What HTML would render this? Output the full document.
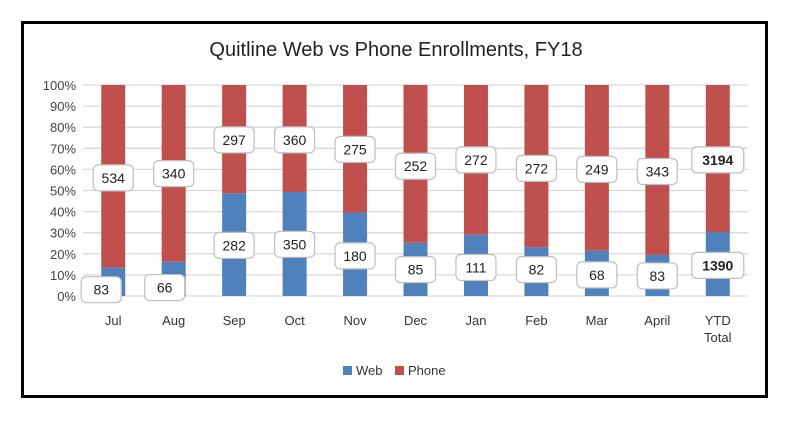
<!DOCTYPE html>
<html><head><meta charset="utf-8"><style>
body{margin:0;background:#fff;width:800px;height:418px;overflow:hidden;font-family:"Liberation Sans",sans-serif}
svg text{font-family:"Liberation Sans",sans-serif}
</style></head><body>
<svg id="c" width="800" height="418">
<rect x="22.5" y="22.5" width="744" height="374" fill="#fff" stroke="#000" stroke-width="3"/>
<text x="396" y="56" text-anchor="middle" font-size="20" fill="#222">Quitline Web vs Phone Enrollments, FY18</text>
<g id="grid"></g><g id="bars"></g><g id="labels"></g>
<g>
<rect x="343" y="366" width="9" height="9" fill="#4f81bd"/>
<text x="356" y="375" font-size="13" fill="#333">Web</text>
<rect x="395" y="366" width="9" height="9" fill="#c0504d"/>
<text x="408" y="375" font-size="13" fill="#333">Phone</text>
</g>
</svg>
<script>
const categories=["Jul","Aug","Sep","Oct","Nov","Dec","Jan","Feb","Mar","April","YTD Total"];
const webValues=[83,66,282,350,180,85,111,82,68,83,1390];
const phoneValues=[534,340,297,360,275,252,272,272,249,343,3194];
const yTicks=[0,10,20,30,40,50,60,70,80,90,100];
// label placement (layout only, percent of axis)
const webLabelPos=[3,4,24,24.5,19,12.5,13.5,12.5,10,9.5,14.5];
const phoneLabelPos=[56,58,74,74,69.5,61.5,64.5,60.5,60,59,64.5];
const webLabelDx=[-12,-9,0,0,0,0,0,0,0,0,0];
const NS="http://www.w3.org/2000/svg";
const L=83,R=748,T=85,B=296;
const band=(R-L)/categories.length;
const x=i=>L+band*(i+0.5);
const y=p=>B-(B-T)*p/100;
function mk(tag,attrs,parent){const e=document.createElementNS(NS,tag);for(const k in attrs)e.setAttribute(k,attrs[k]);parent.appendChild(e);return e;}
const grid=document.getElementById('grid'),bars=document.getElementById('bars'),labels=document.getElementById('labels');
yTicks.forEach(t=>{
 const l=mk('line',{x1:L,x2:R,y1:y(t),y2:y(t),stroke:'#d9d9d9','stroke-width':1.3},grid);
 
 
 const tx=mk('text',{x:76,y:y(t)+5,'text-anchor':'end','font-size':13,fill:'#444'},grid);
 tx.textContent=t+'%';
 
 
});
function box(cx,cy,txt,bold,name){
 const g=mk('g',{},labels);
 
 
 const w=txt.length>3?52:40;
 mk('rect',{x:cx-w/2,y:cy-13,width:w,height:26,rx:5,fill:'#fff',stroke:'#bfbfbf','stroke-width':1.2},g);
 const t=mk('text',{x:cx,y:cy+5,'text-anchor':'middle','font-size':14,fill:'#222','font-weight':bold?'bold':'normal'},g);
 t.textContent=txt;
}
categories.forEach((c,i)=>{
 const tot=webValues[i]+phoneValues[i];
 const wp=webValues[i]/tot*100;
 const bw=24,cx=x(i);
 const rw=mk('rect',{x:cx-bw/2,y:y(wp),width:bw,height:y(0)-y(wp),fill:'#4f81bd'},bars);
 
 
 const rp=mk('rect',{x:cx-bw/2,y:y(100),width:bw,height:y(wp)-y(100),fill:'#c0504d'},bars);
 
 
 const parts=c.split(' ');
 parts.forEach((p,k)=>{
  const t=mk('text',{x:cx,y:325+k*17,'text-anchor':'middle','font-size':13,fill:'#333'},grid);
  t.textContent=p;
  
  
 });
 const bold=i===categories.length-1;
 box(cx,y(phoneLabelPos[i]),String(phoneValues[i]),bold,'phone-label-'+i);
 box(cx+webLabelDx[i],y(webLabelPos[i]),String(webValues[i]),bold,'web-label-'+i);
});
</script>
</body></html>
